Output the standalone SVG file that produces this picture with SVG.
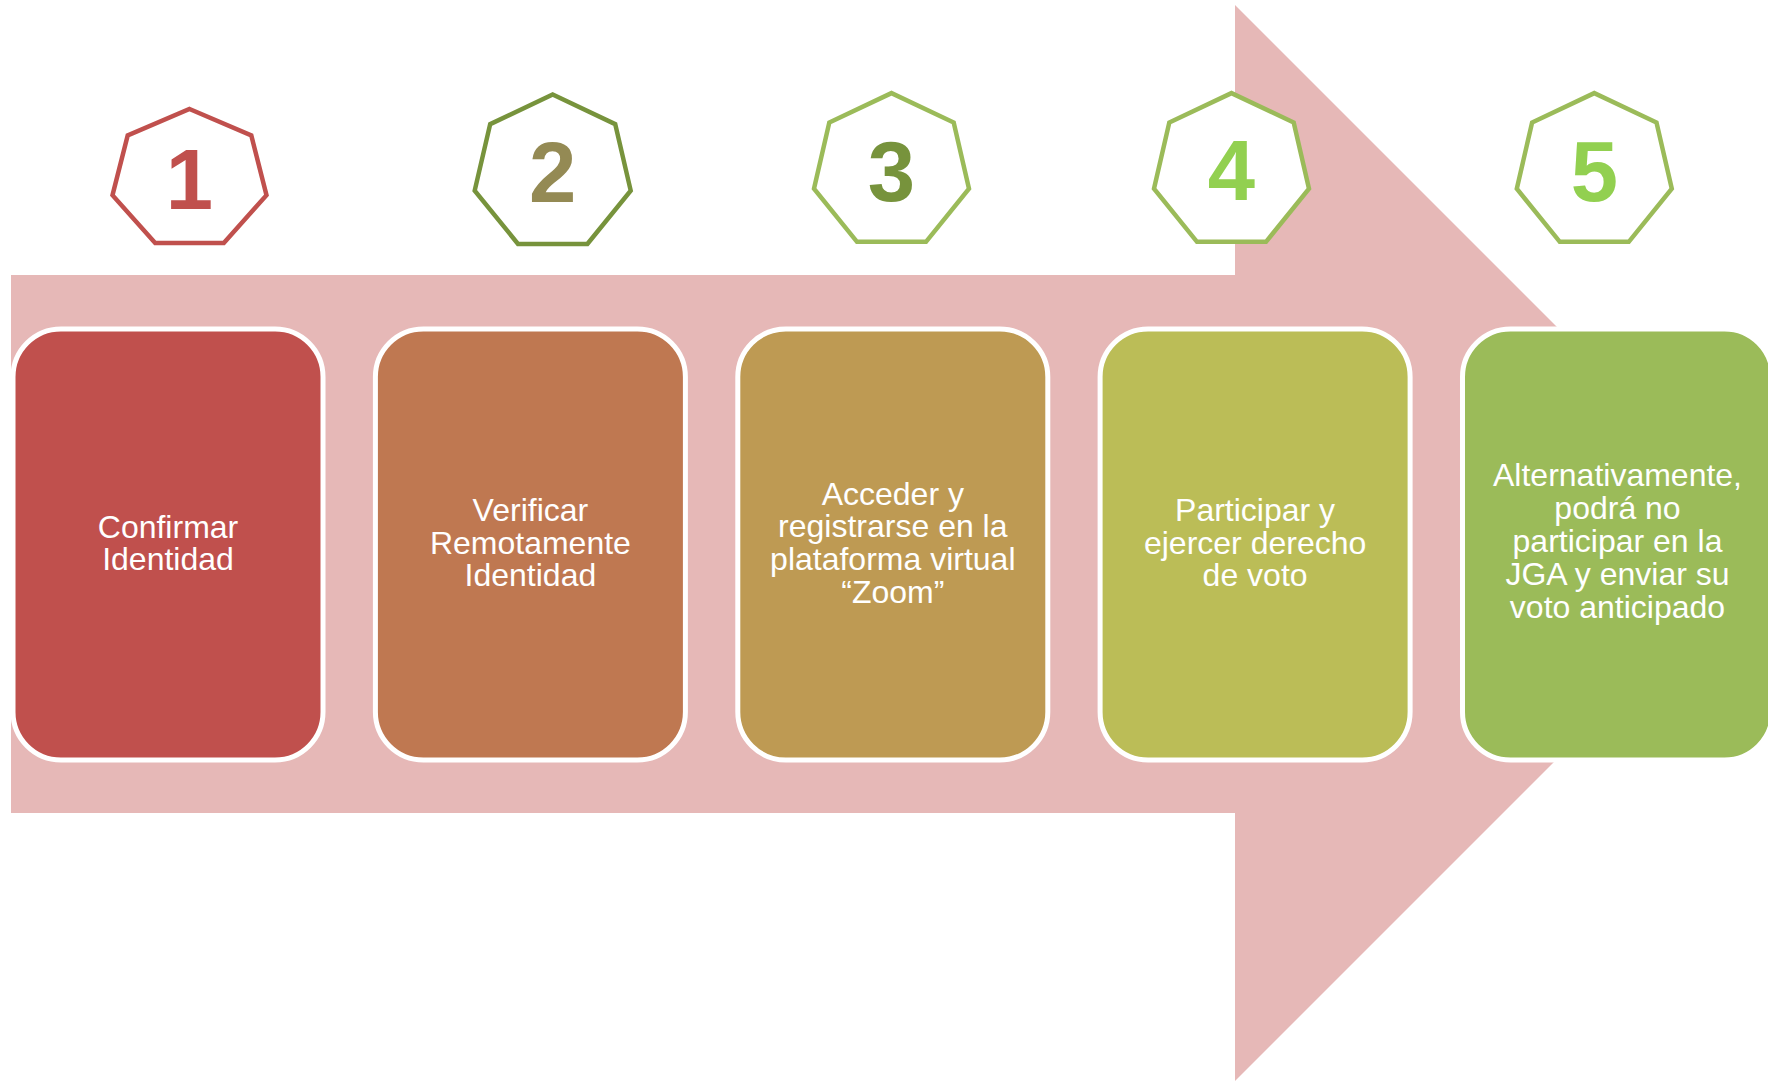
<svg xmlns="http://www.w3.org/2000/svg" width="1768" height="1081" viewBox="0 0 1768 1081">
<style>
.box{stroke:#FFFFFF;stroke-width:5}
.hep{fill:#FFFFFF;stroke-width:4.5;stroke-linejoin:miter}
.num{font-family:"Liberation Sans",Arial,sans-serif;font-weight:bold;font-size:85px;text-anchor:middle}
.lbl{font-family:"Liberation Sans",Arial,sans-serif;font-size:32px;fill:#FFFFFF;text-anchor:middle}
</style>
<rect width="1768" height="1081" fill="#FFFFFF"/>
<g id="connectors">
<polygon id="arrow" points="11,275 1235,275 1235,5 1773,543 1235,1081 1235,813 11,813" fill="#E6B8B7"/>
</g>
<g id="step1">
<polygon class="hep" stroke="#C0504D" points="189.5,109 251.3,135.5 266.5,195.2 223.8,243 155.2,243 112.5,195.2 127.7,135.5"/>
<text class="num" x="189.5" y="209" fill="#C0504D">1</text>
<rect class="box" x="13" y="329" width="310" height="431" rx="48" ry="48" fill="#C0504D"/>
<text class="lbl" x="168" y="537.5">Confirmar</text>
<text class="lbl" x="168" y="570.2">Identidad</text>
</g>
<g id="step2">
<polygon class="hep" stroke="#77933C" points="552.7,94.5 615.2,124.1 630.7,190.6 587.4,243.9 518,243.9 474.7,190.6 490.2,124.1"/>
<text class="num" x="552.7" y="201.5" fill="#948A54">2</text>
<rect class="box" x="375.4" y="329" width="310" height="431" rx="48" ry="48" fill="#BF7851"/>
<text class="lbl" x="530.4" y="520.8">Verificar</text>
<text class="lbl" x="530.4" y="553.5">Remotamente</text>
<text class="lbl" x="530.4" y="586.2">Identidad</text>
</g>
<g id="step3">
<polygon class="hep" stroke="#9BBB59" points="891.5,93.1 953.7,122.5 969,188.7 926,241.8 857,241.8 814,188.7 829.3,122.5"/>
<text class="num" x="891.5" y="200.7" fill="#77933C">3</text>
<rect class="box" x="737.8" y="329" width="310" height="431" rx="48" ry="48" fill="#BE9A53"/>
<text class="lbl" x="892.8" y="504.5">Acceder y</text>
<text class="lbl" x="892.8" y="537.2">registrarse en la</text>
<text class="lbl" x="892.8" y="569.9">plataforma virtual</text>
<text class="lbl" x="892.8" y="602.6">“Zoom”</text>
</g>
<g id="step4">
<polygon class="hep" stroke="#9BBB59" points="1231.5,93.1 1293.7,122.5 1309,188.7 1266,241.8 1197,241.8 1154,188.7 1169.3,122.5"/>
<text class="num" x="1231.5" y="200" fill="#92D050">4</text>
<rect class="box" x="1100.1" y="329" width="310" height="431" rx="48" ry="48" fill="#BBBD57"/>
<text class="lbl" x="1255.1" y="520.8">Participar y</text>
<text class="lbl" x="1255.1" y="553.5">ejercer derecho</text>
<text class="lbl" x="1255.1" y="586.2">de voto</text>
</g>
<g id="step5">
<polygon class="hep" stroke="#9BBB59" points="1594.3,93.1 1656.5,122.5 1671.8,188.7 1628.8,241.8 1559.8,241.8 1516.8,188.7 1532.1,122.5"/>
<text class="num" x="1594.3" y="200.7" fill="#92D050">5</text>
<rect class="box" x="1462.5" y="329" width="310" height="431" rx="48" ry="48" fill="#9BBB59"/>
<text class="lbl" x="1617.5" y="486">Alternativamente,</text>
<text class="lbl" x="1617.5" y="519">podrá no</text>
<text class="lbl" x="1617.5" y="552">participar en la</text>
<text class="lbl" x="1617.5" y="585">JGA y enviar su</text>
<text class="lbl" x="1617.5" y="618">voto anticipado</text>
</g>
</svg>
